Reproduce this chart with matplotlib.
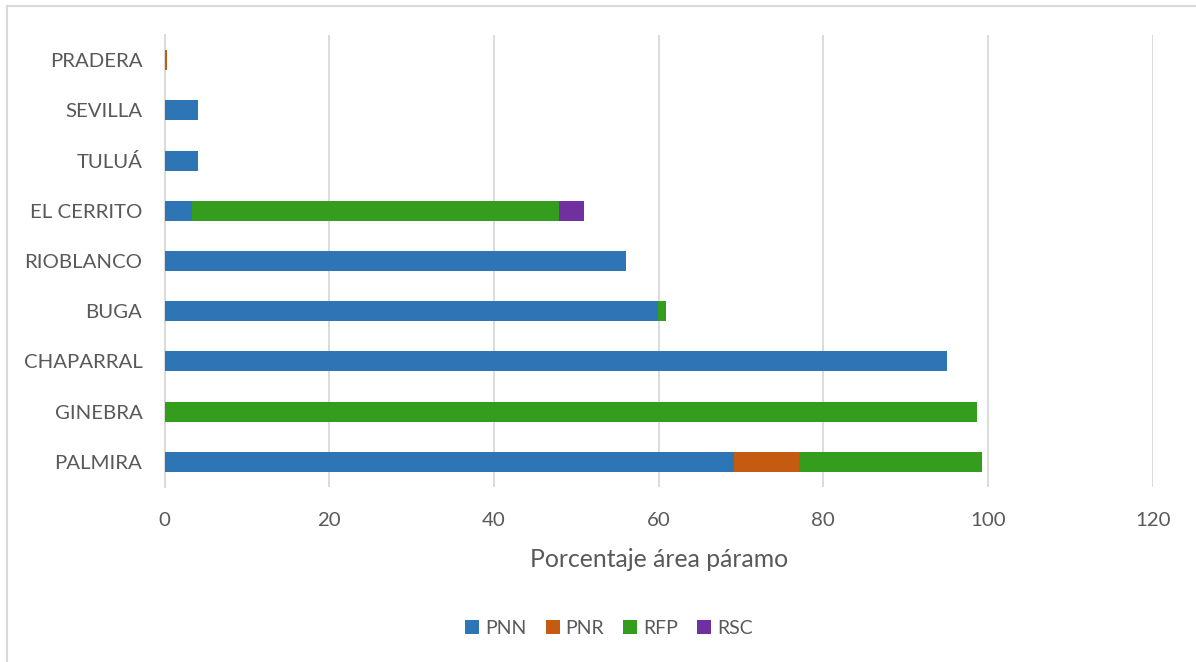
import matplotlib
matplotlib.use("Agg")
import matplotlib.pyplot as plt
from matplotlib.lines import Line2D
import numpy as np

# Municipios (de abajo hacia arriba) y porcentaje del área de páramo por figura de protección
municipios = ["PALMIRA", "GINEBRA", "CHAPARRAL", "BUGA", "RIOBLANCO",
              "EL CERRITO", "TULUÁ", "SEVILLA", "PRADERA"]
pnn = [69.1, 0.0, 95.0, 59.9, 56.1, 3.4, 4.1, 4.1, 0.0]
pnr = [8.0, 0.0, 0.0, 0.0, 0.0, 0.0, 0.0, 0.0, 0.25]
rfp = [22.2, 98.7, 0.0, 1.0, 0.0, 44.5, 0.0, 0.0, 0.0]
rsc = [0.0, 0.0, 0.0, 0.0, 0.0, 3.1, 0.0, 0.0, 0.0]

series = [("PNN", pnn, "#2E75B6"),
          ("PNR", pnr, "#C55A11"),
          ("RFP", rfp, "#349D1D"),
          ("RSC", rsc, "#7030A0")]

xticks = [0, 20, 40, 60, 80, 100, 120]
xlabel = "Porcentaje área páramo"

plt.rcParams["font.family"] = ["Lato", "DejaVu Sans"]
text_color = "#595959"
grid_color = "#D9D9D9"

W, H = 1196, 662
fig = plt.figure(figsize=(W / 100, H / 100), dpi=100)
fig.patch.set_facecolor("white")

ax = fig.add_axes([164.5 / W, 1 - 487 / H, 988.2 / W, 452 / H])

y = np.arange(len(municipios))
left = np.zeros(len(municipios))
handles = []
for name, vals, color in series:
    vals = np.asarray(vals)
    bars = ax.barh(y, vals, left=left, height=0.4, color=color,
                   edgecolor="none", label=name, zorder=3)
    left = left + vals
    handles.append(bars)

ax.set_xlim(0, 120)
ax.set_ylim(-0.5, len(municipios) - 0.5)
ax.set_xticks(xticks)
ax.set_xticklabels([str(t) for t in xticks])
ax.set_yticks(y)
ax.set_yticklabels(municipios)

ax.grid(axis="x", color=grid_color, linewidth=1.3, zorder=0)
ax.set_axisbelow(True)
for side in ["top", "right", "bottom"]:
    ax.spines[side].set_visible(False)
ax.spines["left"].set_color(grid_color)
ax.spines["left"].set_linewidth(1.3)

ax.tick_params(axis="both", length=0, colors=text_color, labelsize=14.7)
ax.tick_params(axis="x", pad=18)
ax.tick_params(axis="y", pad=16)

ax.set_xlabel(xlabel, fontsize=17.8, color=text_color, labelpad=14)

fig.legend(handles=handles, labels=[s[0] for s in series],
           loc="center", bbox_to_anchor=(609 / W, 1 - 628 / H),
           ncol=4, frameon=False, fontsize=14, labelcolor=text_color,
           handlelength=0.72, handleheight=0.72, handletextpad=0.31,
           columnspacing=0.98)

# Chart area border (top and left edges)
fig.add_artist(Line2D([6.5 / W, 1.0], [1 - 5.5 / H, 1 - 5.5 / H],
                      transform=fig.transFigure, color=grid_color, linewidth=1.5))
fig.add_artist(Line2D([6.5 / W, 6.5 / W], [0.0, 1 - 5.5 / H],
                      transform=fig.transFigure, color=grid_color, linewidth=1.5))

fig.savefig("out.png", dpi=100, facecolor="white")
